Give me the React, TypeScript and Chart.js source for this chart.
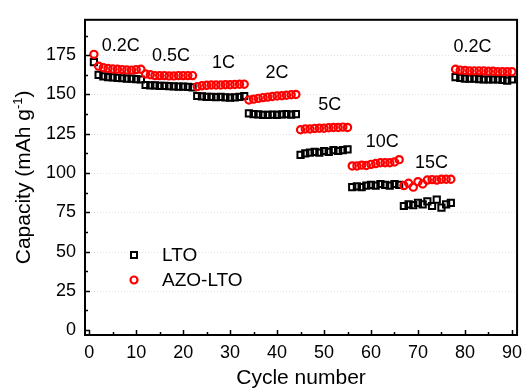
import React, { useEffect, useRef } from 'react';
import { Chart, registerables } from 'chart.js';

Chart.register(...registerables);

const cycles = [
  1, 2, 3, 4, 5, 6, 7, 8, 9, 10, 11, 12, 13, 14, 15, 16, 17, 18, 19, 20,
  21, 22, 23, 24, 25, 26, 27, 28, 29, 30, 31, 32, 33, 34, 35, 36, 37, 38, 39, 40,
  41, 42, 43, 44, 45, 46, 47, 48, 49, 50, 51, 52, 53, 54, 55, 56, 57, 58, 59, 60,
  61, 62, 63, 64, 65, 66, 67, 68, 69, 70, 71, 72, 73, 74, 75, 76, 77, 78, 79, 80,
  81, 82, 83, 84, 85, 86, 87, 88, 89, 90,
];

const ltoCapacity = [
  170.5,
  162.5, 161.5, 161, 160.8, 160.5, 160.3, 160, 160, 159.8, 159.5,
  156, 155.8, 155.7, 155.5, 155.5, 155.3, 155.2, 155, 155, 154.8, 154.5,
  149, 148.8, 148.5, 148.5, 148.3, 148.5, 148.2, 148, 148.2, 148.5, 149,
  138, 137.5, 137.3, 137, 137, 137.2, 137, 137.3, 137.5, 137.2, 137.5,
  111.5, 112.5, 113, 113.5, 113, 114, 113.5, 114.5, 114, 114.5, 115,
  91, 91.5, 91, 92, 92.5, 92, 93, 92.5, 92, 93, 92.5,
  79, 80, 79.5, 81, 80, 82, 79, 83, 78, 80, 81,
  161, 160.5, 160, 160, 160, 159.8, 159.5, 159.5, 159.5, 159.5, 159.2, 158.8, 159.5,
];

const azoCapacity = [
  175.5,
  168, 167, 166.5, 166.2, 166, 165.8, 165.6, 165.5, 165.8, 166,
  163, 162.5, 162, 162, 162, 161.8, 161.8, 162, 162, 162, 162,
  155, 155.5, 155.8, 156, 156, 156, 156.2, 156.2, 156.3, 156.5, 156.5,
  146.5, 147, 147.5, 148, 148.3, 148.7, 149, 149.2, 149.5, 149.8, 150,
  127.5, 128, 128, 128.3, 128.5, 128.5, 128.8, 129, 129, 129.2, 129,
  104.5, 104.5, 105, 104.8, 105.5, 106, 106.5, 106.5, 106.5, 107, 108.5,
  92, 93.5, 91, 94.5, 93, 95.5, 95.8, 95.5, 96, 96, 96,
  166, 165.5, 165.3, 165, 165, 165, 165, 164.8, 164.8, 164.5, 164.5, 164.5, 164.5,
];

const xTicks = [0, 10, 20, 30, 40, 50, 60, 70, 80, 90];
const xMinorTicks = [5, 15, 25, 35, 45, 55, 65, 75, 85];
const yTicks = [0, 25, 50, 75, 100, 125, 150, 175];
const yMinorTicks = [12.5, 37.5, 62.5, 87.5, 112.5, 137.5, 162.5, 187.5];

const rateLabels = ['0.2C', '0.5C', '1C', '2C', '5C', '10C', '15C', '0.2C'];
const rateLabelX = [6.7, 17.4, 28.6, 40, 51.2, 62.4, 72.9, 81.6];
const rateLabelY = [180.6, 174.4, 170, 163.8, 143, 119.4, 106.3, 180];

const seriesNames = ['LTO', 'AZO-LTO'];

const FONT = '"Liberation Sans", Arial, sans-serif';

const decorPlugin = {
  id: 'decor',
  beforeDatasetsDraw(chart: any) {
    const { ctx, chartArea, scales } = chart;
    const ys = scales.y;
    ctx.save();
    ctx.strokeStyle = '#e2e2e2';
    ctx.lineWidth = 1;
    ctx.setLineDash([1, 2]);
    ctx.beginPath();
    for (const v of yTicks) {
      if (v === 0) continue;
      const py = Math.round(ys.getPixelForValue(v)) + 0.5;
      ctx.moveTo(chartArea.left, py);
      ctx.lineTo(chartArea.right, py);
    }
    ctx.stroke();
    ctx.restore();
  },
  afterDatasetsDraw(chart: any) {
    const { ctx, chartArea, scales } = chart;
    const xs = scales.x;
    const ys = scales.y;
    ctx.save();
    ctx.strokeStyle = '#000';
    ctx.lineWidth = 1.5;
    ctx.beginPath();
    for (const v of xTicks) {
      const px = Math.round(xs.getPixelForValue(v)) + 0.5;
      ctx.moveTo(px, chartArea.bottom);
      ctx.lineTo(px, chartArea.bottom - 5);
    }
    for (const v of xMinorTicks) {
      const px = Math.round(xs.getPixelForValue(v)) + 0.5;
      ctx.moveTo(px, chartArea.bottom);
      ctx.lineTo(px, chartArea.bottom - 3);
    }
    for (const v of yTicks) {
      const py = Math.round(ys.getPixelForValue(v)) + 0.5;
      ctx.moveTo(chartArea.left, py);
      ctx.lineTo(chartArea.left + 5, py);
    }
    for (const v of yMinorTicks) {
      const py = Math.round(ys.getPixelForValue(v)) + 0.5;
      ctx.moveTo(chartArea.left, py);
      ctx.lineTo(chartArea.left + 3, py);
    }
    ctx.stroke();
    ctx.lineWidth = 2;
    ctx.strokeRect(chartArea.left, chartArea.top, chartArea.right - chartArea.left, chartArea.bottom - chartArea.top);
    ctx.restore();
  },
  afterDraw(chart: any) {
    const { ctx, chartArea, scales } = chart;
    const xs = scales.x;
    const ys = scales.y;
    ctx.save();
    // rate labels
    ctx.fillStyle = '#000';
    ctx.font = `18px ${FONT}`;
    ctx.textAlign = 'center';
    ctx.textBaseline = 'middle';
    rateLabels.forEach((t, i) => {
      ctx.fillText(t, xs.getPixelForValue(rateLabelX[i]), ys.getPixelForValue(rateLabelY[i]));
    });

    // legend
    ctx.font = `19px ${FONT}`;
    ctx.textAlign = 'left';
    ctx.strokeStyle = '#000';
    ctx.lineWidth = 2;
    ctx.strokeRect(131, 252, 6, 6);
    ctx.fillText(seriesNames[0], 162, 256);
    ctx.strokeStyle = '#ff0000';
    ctx.lineWidth = 2.2;
    ctx.beginPath();
    ctx.arc(134, 280, 3.5, 0, Math.PI * 2);
    ctx.stroke();
    ctx.fillText(seriesNames[1], 162, 281);

    // y title with superscript
    const cy = (chartArea.top + chartArea.bottom) / 2;
    ctx.translate(23, cy);
    ctx.rotate(-Math.PI / 2);
    const mainFont = `21px ${FONT}`;
    const supFont = `13px ${FONT}`;
    const p1 = 'Capacity (mAh g';
    const p2 = '-1';
    const p3 = ')';
    ctx.font = mainFont;
    const w1 = ctx.measureText(p1).width;
    const w3 = ctx.measureText(p3).width;
    ctx.font = supFont;
    const w2 = ctx.measureText(p2).width;
    let x0 = -(w1 + w2 + w3) / 2;
    ctx.textBaseline = 'alphabetic';
    ctx.font = mainFont;
    ctx.fillText(p1, x0, 7);
    x0 += w1;
    ctx.font = supFont;
    ctx.fillText(p2, x0, -1);
    x0 += w2;
    ctx.font = mainFont;
    ctx.fillText(p3, x0, 7);
    ctx.restore();
  },
};

export default function App() {
  const ref = useRef<HTMLCanvasElement | null>(null);
  useEffect(() => {
    if (!ref.current) return;
    const chart = new Chart(ref.current, {
      type: 'scatter',
      data: {
        datasets: [
          {
            label: seriesNames[0],
            data: cycles.map((c, i) => ({ x: c, y: ltoCapacity[i] })),
            pointStyle: 'rect',
            pointRadius: 4.4,
            pointBorderWidth: 2,
            borderColor: '#000',
            backgroundColor: 'rgba(0,0,0,0)',
            order: 2,
          },
          {
            label: seriesNames[1],
            data: cycles.map((c, i) => ({ x: c, y: azoCapacity[i] })),
            pointStyle: 'circle',
            pointRadius: 3.6,
            pointBorderWidth: 2.2,
            borderColor: '#ff0000',
            backgroundColor: 'rgba(0,0,0,0)',
            order: 1,
          },
        ],
      },
      options: {
        animation: false,
        responsive: false,
        maintainAspectRatio: false,
        layout: { padding: { left: 0, right: 8, top: 14, bottom: 0 } },
        plugins: {
          legend: { display: false },
          tooltip: { enabled: false },
          title: { display: false },
        },
        scales: {
          x: {
            type: 'linear',
            min: -0.9,
            max: 91.1,
            grid: { display: false, drawTicks: false },
            border: { display: false },
            afterBuildTicks: (scale: any) => {
              scale.ticks = xTicks.map((v) => ({ value: v }));
            },
            afterFit: (scale: any) => {
              scale.height = 54;
            },
            ticks: {
              color: '#000',
              font: { family: FONT, size: 18 },
              padding: 7,
              maxRotation: 0,
              autoSkip: false,
            },
            title: {
              display: true,
              text: 'Cycle number',
              color: '#000',
              font: { family: FONT, size: 21, lineHeight: 1.0 },
              padding: { top: 0, bottom: 0 },
            },
          },
          y: {
            type: 'linear',
            min: -3.1,
            max: 197.5,
            grid: { display: false, drawTicks: false },
            border: { display: false },
            afterBuildTicks: (scale: any) => {
              scale.ticks = yTicks.map((v) => ({ value: v }));
            },
            afterFit: (scale: any) => {
              scale.width = 85;
            },
            ticks: {
              color: '#000',
              font: { family: FONT, size: 18 },
              padding: 9,
              autoSkip: false,
            },
          },
        },
      },
      plugins: [decorPlugin],
    });
    return () => chart.destroy();
  }, []);
  return (
    <div style={{ position: 'absolute', left: 0, top: 0, width: 529, height: 389, background: '#fff' }}>
      <canvas ref={ref} width={529} height={389} style={{ width: 529, height: 389, display: 'block' }} />
    </div>
  );
}
